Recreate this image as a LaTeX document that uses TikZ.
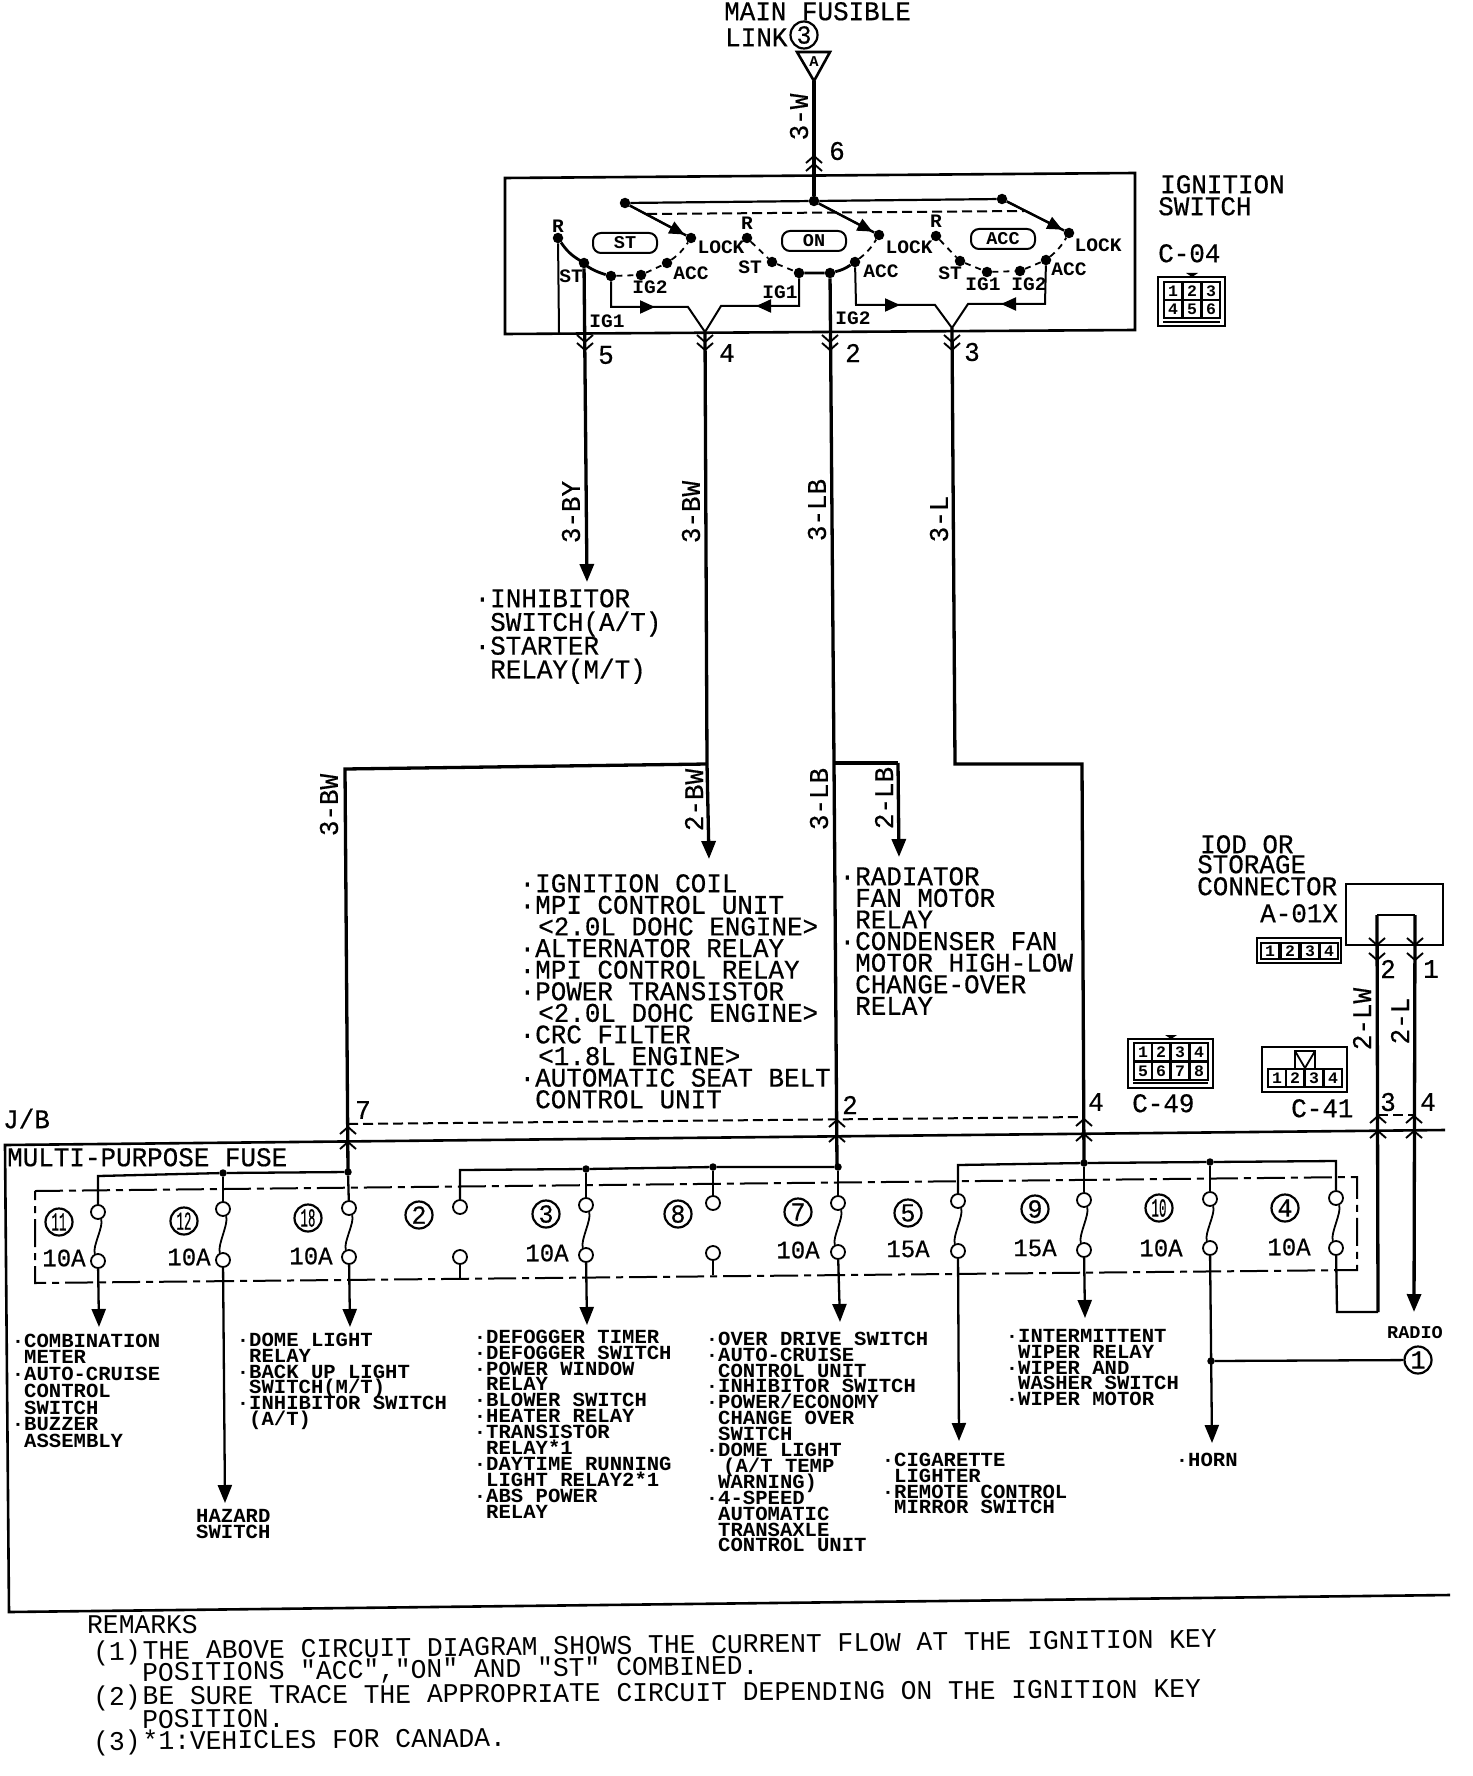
\documentclass[tikz,border=0pt]{standalone}
\usepackage{fontspec,graphicx}
\usetikzlibrary{arrows.meta,calc}
\newfontfamily\bigf[FakeStretch=0.96,FakeBold=0.5]{Liberation Mono}
\newfontfamily\remf[FakeStretch=0.975]{Liberation Mono}
\newfontfamily\smf[FakeStretch=1.03]{Liberation Mono}
\newcommand\rr{\rule{0pt}{.8em}}
\newcommand\bl{\llap{·}}
\newcommand\nn[1]{\scalebox{.5}[1]{#1}}
\newcommand\chevup[2]{\draw[chev] (#1-8,#2+7) -- (#1,#2) -- (#1+8,#2+7);}
\newcommand\chevdn[2]{\draw[chev] (#1-8,#2-7) -- (#1,#2) -- (#1+8,#2-7);}
\newcommand\nols{\lineskiplimit-100pt\relax}
\tikzset{
  wire/.style={line width=3.3pt},
  fwire/.style={line width=2.3pt},
  frame/.style={line width=2.6pt},
  thin wire/.style={line width=2pt},
  chev/.style={line width=1.9pt},
  arr/.style={-{Triangle[length=18pt,width=14pt]}},
  marr/.style={-{Triangle[length=15pt,width=13pt]},line width=2pt},
  dash1/.style={line width=2pt,dash pattern=on 10pt off 5pt},
  dashdot/.style={line width=2pt,dash pattern=on 28pt off 6pt on 7pt off 6pt},
  sdash/.style={line width=1.8pt,dash pattern=on 6pt off 5pt},
  dot/.style={circle,fill=black,inner sep=0pt,minimum size=10.5pt},
  jdot/.style={circle,fill=black,inner sep=0pt,minimum size=7.5pt},
  fusec/.style={circle,draw,fill=white,line width=1.8pt,inner sep=0pt,minimum size=14pt},
  bigtxt/.style={font=\bigf\fontsize{27}{21.6}\selectfont\nols,align=left,inner sep=0pt,anchor=north west,yshift=21.6pt},
  remtxt/.style={font=\remf\fontsize{27}{21.6}\selectfont\nols,align=left,inner sep=0pt,anchor=north west,yshift=21.6pt},
  smtxt/.style={font=\smf\bfseries\fontsize{20}{15.9}\selectfont\nols,align=left,inner sep=0pt,anchor=north west,yshift=16pt},
  sw/.style={font=\smf\bfseries\fontsize{19}{19}\selectfont,inner sep=0pt},
  wl/.style={font=\bigf\fontsize{27}{27}\selectfont,inner sep=0pt,rotate=90},
  num/.style={font=\bigf\fontsize{27}{27}\selectfont,inner sep=0pt},
  amp/.style={font=\bigf\fontsize{25}{25}\selectfont,inner sep=0pt},
  cnum/.style={circle,draw,line width=2.2pt,minimum size=27pt,inner sep=0pt,font=\bigf\fontsize{26}{26}\selectfont},
  pill/.style={draw,line width=2pt,rounded corners=8pt,minimum width=64pt,minimum height=20pt,inner sep=0pt,font=\smf\bfseries\fontsize{18}{18}\selectfont},
  cellbox/.style={draw,line width=1.4pt,minimum width=18pt,minimum height=18pt,inner sep=0pt,font=\smf\bfseries\fontsize{16}{16}\selectfont},
}
\begin{document}
\begin{tikzpicture}[x=1pt,y=-1pt]
\useasboundingbox (0,0) rectangle (1472,1776);
\fill[white] (0,0) rectangle (1472,1776);

% ---- top feed
\node[bigtxt] (mainf) at (724,20) {\rr MAIN FUSIBLE};
\node[bigtxt] (linkl) at (725,46) {\rr LINK};
\node[cnum] (c3) at (804,35) {3};
\coordinate (ta) at (797,52); \coordinate (tb) at (830,52); \coordinate (tc) at (814,81);
\draw[frame] (ta) -- (tb) -- (tc) -- cycle;
\node[sw,font=\smf\bfseries\fontsize{15}{15}\selectfont] (tA) at (814,62) {A};
\node[wl] (l3w) at (799,117) {3-W};
\node[num] (n6) at (837,151) {6};

% ---- ignition switch box
\coordinate (bxa) at (505,178); \coordinate (bxb) at (1135,173);
\coordinate (bxc) at (1135,330); \coordinate (bxd) at (505,334);
\draw[frame] (bxa) -- (bxb) -- (bxc) -- (bxd) -- cycle;
\node[bigtxt] (ignsw) at (1160,193) {\rr IGNITION};
\node[bigtxt] (ignsx) at (1158,215) {\rr SWITCH};
\node[bigtxt] (c04l) at (1158,262) {\rr C-04};

% contacts
\node[dot] (tl) at (625,203) {};
\node[dot] (tm) at (814,201) {};
\node[dot] (tr) at (1002,199) {};
\node[dot] (lock1) at (691,238) {};
\node[dot] (lock2) at (879,235) {};
\node[dot] (lock3) at (1069,233) {};
\node[dot] (r1) at (558,238) {};
\node[dot] (st1) at (584,263) {};
\node[dot] (ig1a) at (611,276) {};
\node[dot] (ig2a) at (641,275) {};
\node[dot] (acca) at (667,263) {};
\node[dot] (r2) at (747,238) {};
\node[dot] (st2) at (772,262) {};
\node[dot] (ig1b) at (799,273) {};
\node[dot] (ig2b) at (830,273) {};
\node[dot] (accb) at (855,262) {};
\node[dot] (r3) at (936,236) {};
\node[dot] (st3) at (960,261) {};
\node[dot] (ig1c) at (987,272) {};
\node[dot] (ig2c) at (1020,271) {};
\node[dot] (accc) at (1046,260) {};

\draw[wire,line width=2.2pt] (tl) -- (tm) -- (tr);
\foreach \a/\b in {tl/lock1,tm/lock2,tr/lock3}{
  \draw[wire,line width=2.4pt] (\a) -- (\b);
  \draw[marr] (\a) -- ($(\a)!0.9!(\b)$);
}
\coordinate (da) at (647,214); \coordinate (db) at (1024,211);
\draw[dash1] (da) -- (db);
\draw[wire,line width=2.8pt] (r1) to[bend right=12] (st1) to[bend right=12] (ig1a);
\draw[sdash] (ig1a) -- (ig2a);
\draw[sdash] (ig2a) -- (acca);
\draw[sdash] (acca) to[bend right=10] (lock1);
\draw[sdash] (r2) -- (st2);
\draw[sdash] (st2) -- (ig1b);
\draw[wire,line width=2.8pt] (ig1b) -- (ig2b) to[bend right=10] (accb);
\draw[sdash] (accb) to[bend right=10] (lock2);
\draw[sdash] (r3) -- (st3);
\draw[sdash] (st3) -- (ig1c);
\draw[sdash] (ig1c) -- (ig2c);
\draw[sdash] (ig2c) -- (accc);
\draw[sdash] (accc) to[bend right=10] (lock3);

\node[pill] (pst) at (625,243) {ST};
\node[pill] (pon) at (814,241) {ON};
\node[pill] (pacc) at (1003,239) {ACC};

% contact labels
\node[sw] (lr1) at (558,226) {R};
\node[sw] (lst1) at (571,276) {ST};
\node[sw] (lig2a) at (650,287) {IG2};
\node[sw] (lacc1) at (691,273) {ACC};
\node[sw] (llock1) at (721,247) {LOCK};
\node[sw] (lig1a) at (607,321) {IG1};
\node[sw] (lr2) at (747,223) {R};
\node[sw] (lst2) at (750,267) {ST};
\node[sw] (lig1b) at (780,292) {IG1};
\node[sw] (lacc2) at (881,271) {ACC};
\node[sw] (llock2) at (909,247) {LOCK};
\node[sw] (lig2b) at (853,318) {IG2};
\node[sw] (lr3) at (936,221) {R};
\node[sw] (lst3) at (950,273) {ST};
\node[sw] (lig1c) at (983,284) {IG1};
\node[sw] (lig2c) at (1029,284) {IG2};
\node[sw] (lacc3) at (1069,269) {ACC};
\node[sw] (llock3) at (1098,245) {LOCK};

% internal Y connections
\coordinate (y1a) at (611,307); \coordinate (y1b) at (688,307);
\coordinate (tip4) at (705,332);
\coordinate (y1c) at (721,306); \coordinate (y1d) at (799,306);
\draw[thin wire] (ig1a) -- (y1a) -- (y1b) -- (tip4) -- (y1c) -- (y1d) -- (ig1b);
\coordinate (m1a) at (655,307); \coordinate (m1b) at (756,306);
\draw[marr] (y1a) -- (m1a);
\draw[marr] (y1d) -- (m1b);
\coordinate (y2a) at (856,305); \coordinate (y2b) at (935,305);
\coordinate (tip3) at (952,328);
\coordinate (y2c) at (968,304); \coordinate (y2d) at (1045,304);
\draw[thin wire] (accb) -- (y2a) -- (y2b) -- (tip3) -- (y2c) -- (y2d) -- (accc);
\coordinate (m2a) at (900,305); \coordinate (m2b) at (1001,304);
\draw[marr] (y2a) -- (m2a);
\draw[marr] (y2d) -- (m2b);
\coordinate (r1end) at (559,333);
\draw[thin wire] (r1) -- (r1end);

% main wires
\draw[wire] (tc) -- (tm);
\chevup{814}{156} \chevup{814}{164}
\coordinate (w5end) at (587,582);
\draw[wire,arr] (st1) -- (w5end);
\chevdn{585}{342} \chevdn{585}{350}
\coordinate (j4) at (707,764); \coordinate (w4end) at (709,859);
\draw[wire] (tip4) -- (j4);
\draw[wire,arr] (j4) -- (w4end);
\chevdn{705}{342} \chevdn{705}{350}
\coordinate (w7top) at (345,769); \coordinate (w7bot) at (348,1172);
\draw[wire] (j4) -- (w7top) -- (w7bot);
\coordinate (j2) at (834,763); \coordinate (w2bot) at (837,1167);
\draw[wire] (ig2b) -- (j2) -- (w2bot);
\chevdn{830}{342} \chevdn{830}{350}
\coordinate (lb2a) at (898,763); \coordinate (lb2b) at (899,857);
\draw[wire] (j2) -- (lb2a);
\draw[wire,arr] (lb2a) -- (lb2b);
\coordinate (w3a) at (955,764); \coordinate (w3b) at (1082,764); \coordinate (w3bot) at (1084,1163);
\draw[wire] (tip3) -- (w3a) -- (w3b) -- (w3bot);
\chevdn{952}{342} \chevdn{952}{350}
\node[num] (n5) at (606,355) {5};
\node[num] (n4) at (727,353) {4};
\node[num] (n2) at (853,353) {2};
\node[num] (n3) at (972,352) {3};

% wire labels
\node[wl] (l3by) at (571,512) {3-BY};
\node[wl] (l3bw) at (691,512) {3-BW};
\node[wl] (l3lb) at (817,510) {3-LB};
\node[wl] (l3l) at (939,519) {3-L};
\node[wl] (l3bwb) at (329,805) {3-BW};
\node[wl] (l2bw) at (694,800) {2-BW};
\node[wl] (l3lbb) at (819,799) {3-LB};
\node[wl] (l2lb) at (884,798) {2-LB};
\node[wl] (l2lw) at (1362,1019) {2-LW};
\node[wl] (l2l) at (1400,1021) {2-L};

% big text blocks
\node[bigtxt,font=\bigf\fontsize{27}{23.7}\selectfont\nols] (inh) at (490,607) {\rr\bl INHIBITOR\\SWITCH(A/T)\\\bl STARTER\\RELAY(M/T)};
\node[bigtxt] (igc) at (535,892) {\rr\bl IGNITION COIL\\\bl MPI CONTROL UNIT\\\kern3pt<2.0L DOHC ENGINE>\\\bl ALTERNATOR RELAY\\\bl MPI CONTROL RELAY\\\bl POWER TRANSISTOR\\\kern3pt<2.0L DOHC ENGINE>\\\bl CRC FILTER\\\kern3pt<1.8L ENGINE>\\\bl AUTOMATIC SEAT BELT\\CONTROL UNIT};
\node[bigtxt] (rad) at (855,885) {\rr\bl RADIATOR\\FAN MOTOR\\RELAY\\\bl CONDENSER FAN\\MOTOR HIGH-LOW\\CHANGE-OVER\\RELAY};

% IOD connector
\node[bigtxt] (iod) at (1200,853) {\rr IOD OR};
\node[bigtxt] (stor) at (1197,873) {\rr STORAGE};
\node[bigtxt] (conn) at (1197,895) {\rr CONNECTOR};
\node[bigtxt] (a01) at (1260,922) {\rr A-01X};
\coordinate (ia) at (1346,884); \coordinate (ib) at (1443,884);
\coordinate (ic) at (1443,945); \coordinate (id) at (1346,945);
\draw[frame] (ia) -- (ib) -- (ic) -- (id) -- cycle;
\coordinate (il) at (1377,915); \coordinate (ir) at (1415,915);
\coordinate (wlb) at (1378,1312); \coordinate (wrb) at (1414,1312);
\draw[frame] (il) -- (ir);
\draw[wire] (il) -- (wlb);
\draw[wire,arr] (ir) -- (wrb);
\chevdn{1377}{945} \chevdn{1377}{960}
\chevdn{1415}{945} \chevdn{1415}{960}
\node[num] (n2r) at (1388,969) {2};
\node[num] (n1r) at (1431,969) {1};
\node[num] (n3r) at (1388,1102) {3};
\node[num] (n4r) at (1428,1102) {4};
\node[num] (n7j) at (363,1110) {7};
\node[num] (n2j) at (850,1105) {2};
\node[num] (n4j) at (1096,1102) {4};

% connector icons
\draw[frame] (1158,277) rectangle (1225,326);
\draw[line width=1.4pt] (1163,322) -- (1220,322);
\fill (1186,273) -- (1198,273) -- (1192,277) -- cycle;
\foreach \n/\cx/\cy in {1/1173/291,2/1192/291,3/1211/291,4/1173/309,5/1192/309,6/1211/309}
  \node[cellbox] (cfour\n) at (\cx,\cy) {\n};
\draw[frame] (1257,938) rectangle (1341,963);
\foreach \n/\cx in {1/1270,2/1290,3/1310,4/1329}
  \node[cellbox,minimum height=16pt] (aone\n) at (\cx,951) {\n};
\draw[frame] (1128,1039) rectangle (1213,1088);
\draw[line width=1.4pt] (1133,1083) -- (1208,1083);
\fill (1165,1035) -- (1177,1035) -- (1171,1039) -- cycle;
\foreach \n/\cx/\cy in {1/1143/1052,2/1161/1052,3/1180/1052,4/1199/1052,5/1143/1071,6/1161/1071,7/1180/1071,8/1199/1071}
  \node[cellbox] (cfn\n) at (\cx,\cy) {\n};
\node[bigtxt] (c49l) at (1132,1112) {\rr C-49};
\draw[frame] (1262,1047) rectangle (1347,1092);
\foreach \n/\cx in {1/1277,2/1295,3/1314,4/1333}
  \node[cellbox] (cfo\n) at (\cx,1078) {\n};
\draw[line width=1.8pt] (1295,1068) -- (1295,1051) -- (1315,1051) -- (1315,1068);
\draw[line width=1.8pt] (1295,1051) -- (1305,1068) -- (1315,1051);
\node[bigtxt] (c41l) at (1291,1117) {\rr C-41};

% J/B
\node[bigtxt] (jb) at (3,1128) {\rr J/B};
\coordinate (ja) at (1445,1130); \coordinate (jb1) at (5,1145);
\coordinate (jc) at (9,1612); \coordinate (jd) at (1450,1595);
\draw[frame] (ja) -- (jb1) -- (jc) -- (jd);
\coordinate (jda) at (348,1124); \coordinate (jdb) at (1084,1117);
\coordinate (jdc) at (1378,1115); \coordinate (jdd) at (1414,1115);
\draw[dash1] (jda) -- (jdb);
\draw[dash1] (jdc) -- (jdd);
\chevup{348}{1127} \chevup{348}{1142}
\chevup{837}{1120} \chevup{837}{1135}
\chevup{1084}{1119} \chevup{1084}{1134}
\chevup{1378}{1116} \chevup{1378}{1131}
\chevup{1414}{1116} \chevup{1414}{1131}
\node[bigtxt] (mpf) at (7,1166) {\rr MULTI-PURPOSE FUSE};

% dash-dot inner frame
\coordinate (fa) at (35,1191); \coordinate (fb) at (1357,1177);
\coordinate (fc) at (1357,1270); \coordinate (fd) at (35,1283);
\draw[dashdot] (fa) -- (fb) -- (fc) -- (fd) -- cycle;

% fuses
\foreach \n/\fx/\yt/\yb in {k/98/1212/1261,l/223/1209/1260,r/349/1208/1257,c/586/1205/1255,g/838/1203/1252,e/958/1201/1251,i/1084/1200/1250,j/1210/1199/1248,d/1336/1198/1248}{
  \node[fusec] (ft\n) at (\fx,\yt) {};
  \node[fusec] (fb\n) at (\fx,\yb) {};
  \draw[line width=1.8pt] (ft\n) .. controls +(6,14) and +(-6,-14) .. (fb\n);
}
\node[fusec] (ftb) at (460,1207) {};
\node[fusec] (fbb) at (460,1257) {};
\node[fusec] (fth) at (713,1203) {};
\node[fusec] (fbh) at (713,1253) {};
\coordinate (sb) at (460,1278); \coordinate (sh) at (713,1275);
\draw[line width=1.6pt] (fbb) -- (sb);
\draw[line width=1.6pt] (fbh) -- (sh);

% buses
\node[jdot] (j348) at (348,1172) {};
\node[jdot] (j223) at (223,1173) {};
\coordinate (b1l) at (98,1176);
\draw[fwire] (ftk) -- (b1l) -- (j223) -- (j348);
\draw[fwire] (j223) -- (ftl);
\draw[fwire] (j348) -- (ftr);
\node[jdot] (j585) at (586,1169) {};
\node[jdot] (j713) at (713,1167) {};
\node[jdot] (j836) at (838,1167) {};
\coordinate (b2l) at (460,1170);
\draw[fwire] (ftb) -- (b2l) -- (j585) -- (j713) -- (j836);
\draw[fwire] (j585) -- (ftc);
\draw[fwire] (j713) -- (fth);
\draw[fwire] (j836) -- (ftg);
\node[jdot] (j1083) at (1084,1163) {};
\node[jdot] (j1209) at (1210,1162) {};
\coordinate (b3l) at (958,1165); \coordinate (b3r) at (1336,1161);
\draw[fwire] (fte) -- (b3l) -- (j1083) -- (j1209) -- (b3r) -- (ftd);
\draw[fwire] (j1083) -- (fti);
\draw[fwire] (j1209) -- (ftj);

% outputs
\coordinate (ok) at (99,1327); \coordinate (ol) at (225,1503);
\coordinate (or) at (350,1327); \coordinate (oc) at (587,1325);
\coordinate (og) at (840,1322); \coordinate (oe) at (959,1441);
\coordinate (oi) at (1085,1318); \coordinate (oj) at (1212,1443);
\draw[fwire,arr] (fbk) -- (ok);
\draw[fwire,arr] (fbl) -- (ol);
\draw[fwire,arr] (fbr) -- (or);
\draw[fwire,arr] (fbc) -- (oc);
\draw[fwire,arr] (fbg) -- (og);
\draw[fwire,arr] (fbe) -- (oe);
\draw[fwire,arr] (fbi) -- (oi);
\draw[fwire,arr] (fbj) -- (oj);
\coordinate (da1) at (1337,1312);
\draw[fwire] (fbd) -- (da1) -- (wlb);
\node[jdot] (j1361) at (1211,1361) {};
\node[cnum] (c1) at (1418,1360) {1};
\draw[fwire] (j1361) -- (c1);
\node[sw,font=\smf\bfseries\fontsize{18}{18}\selectfont] (radio) at (1415,1333) {RADIO};

% fuse numbers
\node[cnum] (n11) at (59,1222) {\nn{11}};
\node[cnum] (n12) at (184,1221) {\nn{12}};
\node[cnum] (n18) at (308,1218) {\nn{18}};
\node[cnum] (n2f) at (419,1215) {2};
\node[cnum] (n3f) at (546,1214) {3};
\node[cnum] (n8f) at (678,1214) {8};
\node[cnum] (n7f) at (798,1212) {7};
\node[cnum] (n5f) at (908,1213) {5};
\node[cnum] (n9f) at (1035,1209) {9};
\node[cnum] (n10) at (1159,1208) {\nn{10}};
\node[cnum] (n4f) at (1285,1208) {4};
\node[amp] (a11) at (64,1258) {10A};
\node[amp] (a12) at (189,1257) {10A};
\node[amp] (a18) at (311,1256) {10A};
\node[amp] (a3) at (547,1253) {10A};
\node[amp] (a7) at (798,1250) {10A};
\node[amp] (a5) at (908,1249) {15A};
\node[amp] (a9) at (1035,1248) {15A};
\node[amp] (a10) at (1161,1248) {10A};
\node[amp] (a4) at (1289,1247) {10A};

% small text blocks
\node[smtxt,font=\smf\bfseries\fontsize{20}{16.7}\selectfont\nols] (tcomb) at (24,1347) {\rr\bl COMBINATION\\METER\\\bl AUTO-CRUISE\\CONTROL\\SWITCH\\\bl BUZZER\\ASSEMBLY};
\node[smtxt] (tdome) at (249,1346) {\rr\bl DOME LIGHT\\RELAY\\\bl BACK UP LIGHT\\SWITCH(M/T)\\\bl INHIBITOR SWITCH\\(A/T)};
\node[smtxt] (thaz) at (196,1522) {\rr HAZARD\\SWITCH};
\node[smtxt] (tdef) at (486,1343) {\rr\bl DEFOGGER TIMER\\\bl DEFOGGER SWITCH\\\bl POWER WINDOW\\RELAY\\\bl BLOWER SWITCH\\\bl HEATER RELAY\\\bl TRANSISTOR\\RELAY*1\\\bl DAYTIME RUNNING\\LIGHT RELAY2*1\\\bl ABS POWER\\RELAY};
\node[smtxt] (tover) at (718,1345) {\rr\bl OVER DRIVE SWITCH\\\bl AUTO-CRUISE\\CONTROL UNIT\\\bl INHIBITOR SWITCH\\\bl POWER/ECONOMY\\CHANGE OVER\\SWITCH\\\bl DOME LIGHT\\\kern5pt(A/T TEMP\\WARNING)\\\bl 4-SPEED\\AUTOMATIC\\TRANSAXLE\\CONTROL UNIT};
\node[smtxt] (tcig) at (894,1466) {\rr\bl CIGARETTE\\LIGHTER\\\bl REMOTE CONTROL\\MIRROR SWITCH};
\node[smtxt] (tint) at (1018,1342) {\rr\bl INTERMITTENT\\WIPER RELAY\\\bl WIPER AND\\WASHER SWITCH\\\bl WIPER MOTOR};
\node[smtxt] (thorn) at (1188,1466) {\rr\bl HORN};

% remarks
\node[remtxt] (rem) at (87,1633) {\rr REMARKS};
\node[remtxt,rotate=0.65] (r1a) at (93,1660) {\rr(1)\kern2pt THE ABOVE CIRCUIT DIAGRAM SHOWS THE CURRENT FLOW AT THE IGNITION KEY};
\node[remtxt,rotate=0.65] (r1b) at (142,1681) {\rr POSITIONS "ACC","ON" AND "ST" COMBINED.};
\node[remtxt,rotate=0.4] (r2a) at (93,1705) {\rr(2)\kern2pt BE SURE TRACE THE APPROPRIATE CIRCUIT DEPENDING ON THE IGNITION KEY};
\node[remtxt,rotate=0.4] (r2b) at (142,1728) {\rr POSITION.};
\node[remtxt,rotate=0.5] (r3a) at (93,1750) {\rr(3)\kern2pt *1:VEHICLES FOR CANADA.};
\end{tikzpicture}
\end{document}
